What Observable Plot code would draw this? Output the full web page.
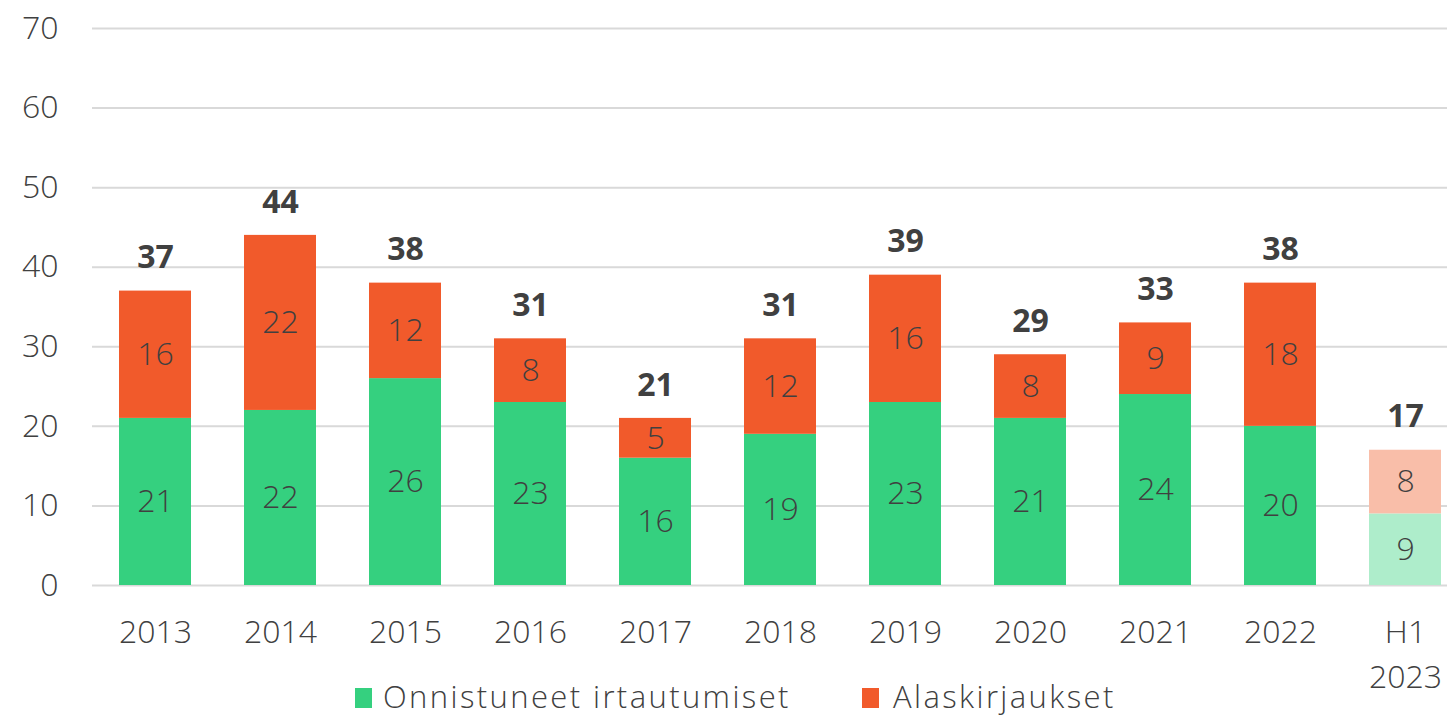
<!DOCTYPE html>
<html><head><meta charset="utf-8">
<script src="https://cdn.jsdelivr.net/npm/d3@7"></script>
<script src="https://cdn.jsdelivr.net/npm/@observablehq/plot@0.6"></script>
<style>
body{margin:0;background:#fff;font-family:"Open Sans",sans-serif;}
#wrap{position:relative;width:1447px;height:718px;overflow:hidden;}
#legend{position:absolute;left:0;top:676px;width:1447px;height:40px;font-size:31px;letter-spacing:2.4px;color:#404040;font-weight:300;}
.sw{position:absolute;top:12px;width:17px;height:20px;}
.lt{position:absolute;top:0;line-height:40px;white-space:nowrap;}
</style></head>
<body><div id="wrap"><div id="chart"></div>
<div id="legend">
<span class="sw" style="left:355px;background:#35D07F"></span><span class="lt" style="left:383px">Onnistuneet irtautumiset</span>
<span class="sw" style="left:862px;background:#F15A2B"></span><span class="lt" style="left:893px">Alaskirjaukset</span>
</div></div>
<script>
const categories = ["2013","2014","2015","2016","2017","2018","2019","2020","2021","2022","H1 2023"];
const onnistuneet = [21,22,26,23,16,19,23,21,24,20,9];
const alaskirjaukset = [16,22,12,8,5,12,16,8,9,18,8];
const yTicks = [0,10,20,30,40,50,60,70];

const seriesNames = ["Onnistuneet irtautumiset","Alaskirjaukset"];
const rows = [];
categories.forEach((c,i)=>{
  rows.push({cat:c, series:seriesNames[0], value:onnistuneet[i]});
  rows.push({cat:c, series:seriesNames[1], value:alaskirjaukset[i]});
});
const totals = categories.map((c,i)=>({cat:c, total:onnistuneet[i]+alaskirjaukset[i]}));
const colorOf = d => {
  const partial = d.cat === "H1 2023";
  if (d.series === seriesNames[0]) return partial ? "#AEEDCB" : "#35D07F";
  return partial ? "#F9BEA9" : "#F15A2B";
};
const font = "'Open Sans', sans-serif";
const chart = Plot.plot({
  width:1447, height:718,
  marginTop:28, marginBottom:133, marginLeft:92, marginRight:0,
  style:{fontFamily:font, color:"#404040", background:"#fff"},
  x:{domain:categories, range:[92.5,1467.5], paddingInner:0.424, paddingOuter:0.212, label:null},
  y:{domain:[0,70], label:null},
  marks:[
    Plot.ruleY(yTicks, {stroke:"#D9D9D9", strokeWidth:2}),
    Plot.barY(rows, Plot.stackY({x:"cat", y:"value", z:"series", fill:colorOf, order:seriesNames})),
    Plot.text(rows, Plot.stackY({x:"cat", y:"value", z:"series", order:seriesNames, text:d=>String(d.value), fontSize:32, fill:"#404040", fontWeight:300})),
    Plot.text(totals, {x:"cat", y:"total", text:d=>String(d.total), dy:-33, fontSize:32, fontWeight:"bold", fill:"#404040"}),
    Plot.axisY({ticks:yTicks, tickSize:0, tickPadding:34, fontSize:32, tickFormat:d=>String(d), color:"#404040", fontWeight:300, label:null}),
    Plot.axisX({tickSize:0, tickPadding:26, fontSize:32, lineHeight:1.4, color:"#404040", fontWeight:300, label:null,
      tickFormat:d=> d==="H1 2023" ? "H1\n2023" : d})
  ]
});
document.getElementById("chart").appendChild(chart);
</script></body></html>
